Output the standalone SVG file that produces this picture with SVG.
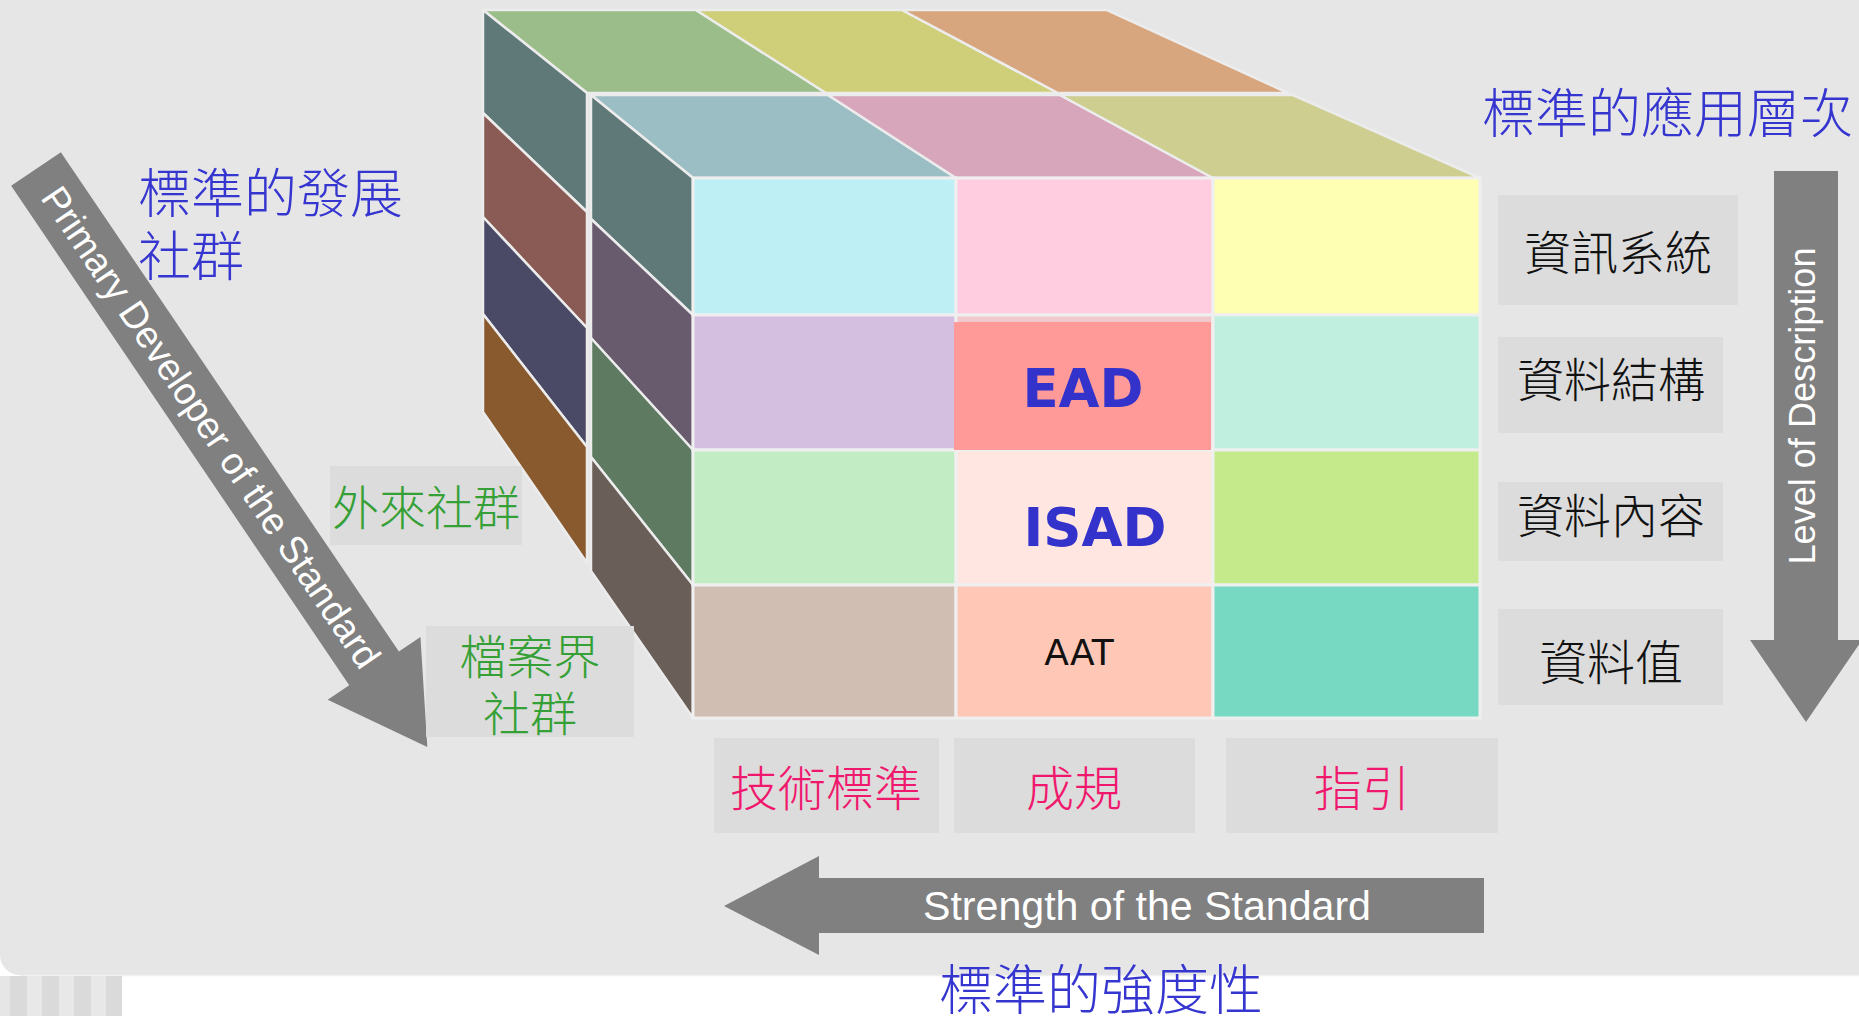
<svg xmlns="http://www.w3.org/2000/svg" width="1859" height="1016" viewBox="0 0 1859 1016">
<style>
.face{stroke:#ececec;stroke-width:2.5;stroke-linejoin:round}
.cell{stroke:#efefef;stroke-width:3}
.box{fill:#dcdcdc}
.cjk{font-family:"Noto Sans CJK TC","Noto Sans CJK SC",sans-serif;font-weight:300}
.blue{fill:#3535d0}
.green{fill:#35a035}
.pink{fill:#f0186c}
.black{fill:#111111}
.arrow{fill:#808080}
.wlab{font-family:"Liberation Sans",Arial,sans-serif;fill:#ffffff}
.cellb{font-family:"DejaVu Sans",sans-serif;font-weight:bold;fill:#3333cc;text-anchor:middle}
</style>
<rect x="0" y="0" width="1859" height="1016" fill="#ffffff"/>
<rect x="0" y="-30" width="1900" height="1005" rx="20" fill="#e6e6e6"/>
<line x1="20" y1="975.5" x2="1859" y2="975.5" stroke="#f0f0f0" stroke-width="1.5"/>
<g id="stripes">
<rect x="0" y="976" width="10" height="40" fill="#e6e6e6"/>
<rect x="10" y="976" width="17" height="40" fill="#dadada"/>
<rect x="27" y="976" width="15" height="40" fill="#e8e8e8"/>
<rect x="42" y="976" width="17" height="40" fill="#dadada"/>
<rect x="59" y="976" width="15" height="40" fill="#e8e8e8"/>
<rect x="74" y="976" width="17" height="40" fill="#dadada"/>
<rect x="91" y="976" width="15" height="40" fill="#e8e8e8"/>
<rect x="106" y="976" width="16" height="40" fill="#dadada"/>
</g>

<g id="cube">
<g id="back-top">
<polygon class="face" fill="#9bbd89" points="483,10 696,10 826,93 587,93"/>
<polygon class="face" fill="#cfce79" points="696,10 902,10 1058,93 826,93"/>
<polygon class="face" fill="#d8a67e" points="902,10 1107,10 1288,93 1058,93"/>
</g>
<g id="back-side">
<polygon class="face" fill="#5f7878" points="483,10 587,93 587,212 483,113"/>
<polygon class="face" fill="#8a5a55" points="483,113 587,212 587,328 483,217"/>
<polygon class="face" fill="#4b4a66" points="483,217 587,328 587,447 483,314"/>
<polygon class="face" fill="#8a5a2f" points="483,314 587,447 587,563 483,412"/>
</g>
<g id="front-top">
<polygon class="face" fill="#9bbec5" points="591,95 828,95 956,178 693,178"/>
<polygon class="face" fill="#d8a6ba" points="828,95 1060,95 1213,178 956,178"/>
<polygon class="face" fill="#cdce90" points="1060,95 1293,95 1480,178 1213,178"/>
</g>
<g id="front-side">
<polygon class="face" fill="#5f7878" points="591,95 693,178 693,315 591,219"/>
<polygon class="face" fill="#695b6e" points="591,219 693,315 693,450 591,338"/>
<polygon class="face" fill="#5e7a60" points="591,338 693,450 693,585 591,457"/>
<polygon class="face" fill="#6a5e58" points="591,457 693,585 693,718 591,571"/>
</g>
<g id="front-face">
<rect class="cell" x="693" y="178" width="263" height="137" fill="#bdeff5"/>
<rect class="cell" x="956" y="178" width="257" height="137" fill="#ffcce0"/>
<rect class="cell" x="1213" y="178" width="267" height="137" fill="#ffffb3"/>
<rect class="cell" x="693" y="315" width="263" height="135" fill="#d4bfe0"/>
<rect class="cell" x="956" y="315" width="257" height="135" fill="#efc9cc"/>
<rect class="cell" x="1213" y="315" width="267" height="135" fill="#c0eedf"/>
<rect class="cell" x="693" y="450" width="263" height="135" fill="#c2edc4"/>
<rect class="cell" x="956" y="450" width="257" height="135" fill="#ffe6e0"/>
<rect class="cell" x="1213" y="450" width="267" height="135" fill="#c4ea8c"/>
<rect class="cell" x="693" y="585" width="263" height="133" fill="#d0beb2"/>
<rect class="cell" x="956" y="585" width="257" height="133" fill="#ffc8b6"/>
<rect class="cell" x="1213" y="585" width="267" height="133" fill="#78d9c3"/>
</g>
<g id="node-ead">
<rect x="954" y="322" width="257" height="128" fill="#ff9a98"/>
<text class="cellb" x="1083" y="407" font-size="53">EAD</text>
</g>
<g id="node-isad">
<text class="cellb" x="1095" y="546" font-size="53">ISAD</text>
</g>
<g id="node-aat">
<text x="1079" y="665" font-size="36" font-family="DejaVu Sans, sans-serif" fill="#111111" text-anchor="middle">AAT</text>
</g>
</g>

<g id="connectors">
<g id="arrow-developer" transform="translate(36,169) rotate(55.9)">
<polygon class="arrow" points="0,-30 603,-30 603,-56 698,0 603,56 603,30 0,30"/>
<text class="wlab" x="312" y="13" font-size="38" text-anchor="middle" textLength="572" lengthAdjust="spacingAndGlyphs">Primary Developer of the Standard</text>
</g>
<g id="arrow-level">
<polygon class="arrow" points="1774,171 1838,171 1838,640 1862,640 1806,722 1750,640 1774,640"/>
<text class="wlab" transform="translate(1815,406) rotate(-90)" x="0" y="0" font-size="36" text-anchor="middle" textLength="317" lengthAdjust="spacingAndGlyphs">Level of Description</text>
</g>
<g id="arrow-strength">
<polygon class="arrow" points="1484,878 819,878 819,856 724,906 819,955 819,933 1484,933"/>
<text class="wlab" x="1147" y="920" font-size="41" text-anchor="middle" textLength="448" lengthAdjust="spacingAndGlyphs">Strength of the Standard</text>
</g>
</g>

<g id="title-level">
<text class="cjk blue" x="1482" y="133" font-size="53">標準的應用層次</text>
</g>
<g id="title-developer">
<text class="cjk blue" font-size="53"><tspan x="138" y="213">標準的發展</tspan><tspan x="138" y="276">社群</tspan></text>
</g>
<g id="title-strength">
<text class="cjk blue" x="939" y="1010" font-size="54">標準的強度性</text>
</g>

<g id="node-external">
<rect class="box" x="330" y="466" width="192" height="79"/>
<text class="cjk green" x="426" y="525" font-size="47" text-anchor="middle">外來社群</text>
</g>
<g id="node-archives">
<rect class="box" x="426" y="626" width="208" height="111"/>
<text class="cjk green" font-size="47" text-anchor="middle"><tspan x="530" y="674">檔案界</tspan><tspan x="530" y="731">社群</tspan></text>
</g>

<g id="node-infosys">
<rect class="box" x="1498" y="195" width="240" height="110"/>
<text class="cjk black" x="1618" y="270" font-size="47" text-anchor="middle">資訊系統</text>
</g>
<g id="node-structure">
<rect class="box" x="1498" y="337" width="225" height="96"/>
<text class="cjk black" x="1611" y="397" font-size="47" text-anchor="middle">資料結構</text>
</g>
<g id="node-content">
<rect class="box" x="1498" y="482" width="225" height="79"/>
<text class="cjk black" x="1611" y="533" font-size="47" text-anchor="middle">資料內容</text>
</g>
<g id="node-value">
<rect class="box" x="1498" y="609" width="225" height="96"/>
<text class="cjk black" x="1611" y="680" font-size="48" text-anchor="middle">資料值</text>
</g>

<g id="node-technical">
<rect class="box" x="714" y="738" width="225" height="95"/>
<text class="cjk pink" x="826" y="806" font-size="48" text-anchor="middle">技術標準</text>
</g>
<g id="node-convention">
<rect class="box" x="954" y="738" width="241" height="95"/>
<text class="cjk pink" x="1074" y="806" font-size="48" text-anchor="middle">成規</text>
</g>
<g id="node-guide">
<rect class="box" x="1226" y="738" width="272" height="95"/>
<text class="cjk pink" x="1362" y="806" font-size="48" text-anchor="middle">指引</text>
</g>
</svg>
